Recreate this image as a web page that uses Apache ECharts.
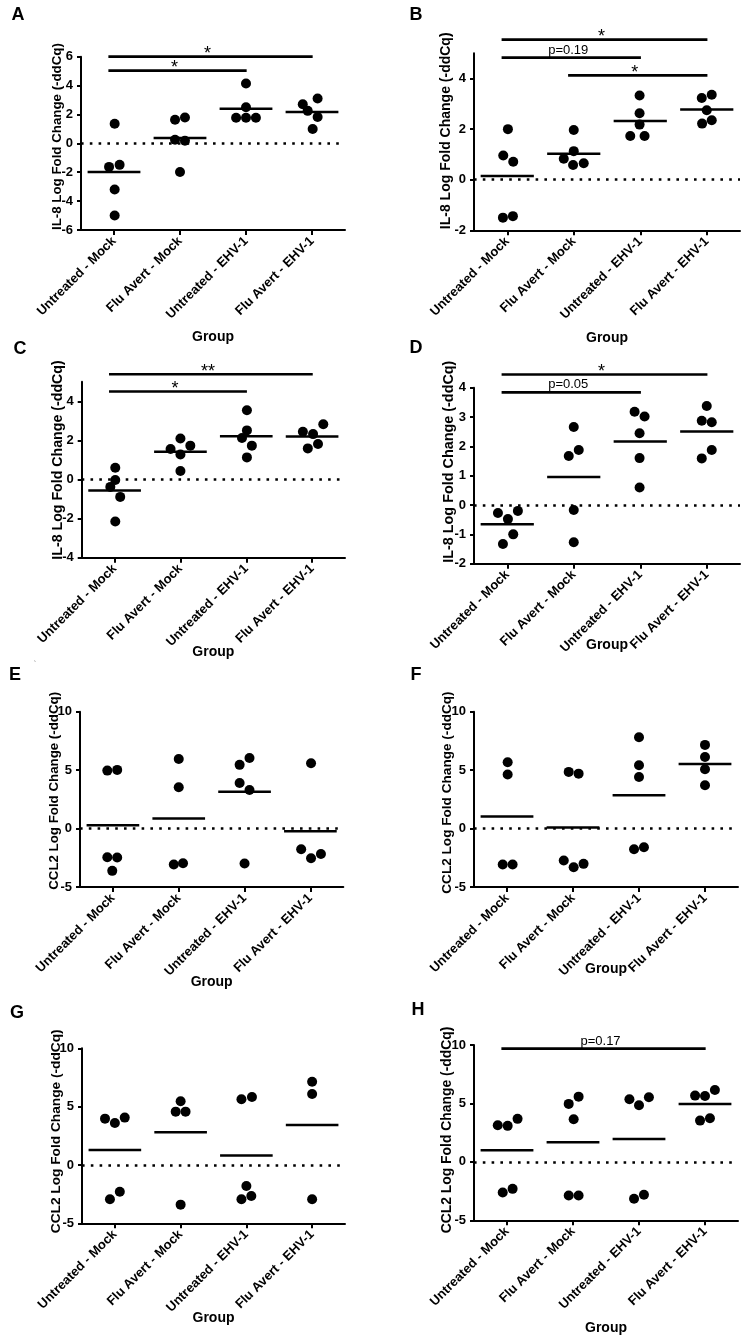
<!DOCTYPE html>
<html>
<head>
<meta charset="utf-8">
<script src="https://cdn.jsdelivr.net/npm/echarts@6/dist/echarts.min.js"></script>
<style>
html,body{margin:0;padding:0;background:#fff;}
#chart{width:746px;height:1339px;}
</style>
</head>
<body>
<div id="chart"></div>
<script>
// ---------- DATA ----------
const categories = ['Untreated - Mock', 'Flu Avert - Mock', 'Untreated - EHV-1', 'Flu Avert - EHV-1'];
const categoryTicks = [0, 1, 2, 3];

const ticksA = [-6, -4, -2, 0, 2, 4, 6];
const ticksB = [-2, 0, 2, 4];
const ticksC = [-4, -2, 0, 2, 4];
const ticksD = [-2, -1, 0, 1, 2, 3, 4];
const ticksCCL2 = [-5, 0, 5, 10];

const valuesA = [
  [1.36, -1.63, -1.49, -3.2, -4.99],
  [1.63, 1.79, 0.25, 0.18, -1.98],
  [4.14, 2.5, 1.77, 1.77, 1.77],
  [3.1, 2.71, 2.25, 1.82, 0.99]
];
const jitterA = [
  [0.01, -0.075, 0.085, 0.01, 0.01],
  [-0.075, 0.075, -0.075, 0.075, 0],
  [0, 0, -0.15, 0, 0.15],
  [0.085, -0.14, -0.065, 0.085, 0.01]
];
const valuesB = [
  [2.0, 0.96, 0.71, -1.5, -1.44],
  [1.97, 1.13, 0.83, 0.58, 0.65],
  [3.33, 2.63, 2.18, 1.73, 1.73],
  [3.36, 3.23, 2.75, 2.22, 2.35]
];
const jitterB = [
  [0.01, -0.06, 0.09, -0.065, 0.085],
  [0, 0, -0.15, -0.01, 0.15],
  [-0.01, -0.01, -0.01, -0.15, 0.065],
  [0.075, -0.075, 0, -0.07, 0.075]
];
const valuesC = [
  [0.6, -0.03, -0.38, -0.89, -2.15],
  [2.1, 1.56, 1.73, 1.28, 0.43],
  [3.54, 2.51, 2.12, 1.73, 1.13],
  [2.82, 2.44, 2.32, 1.81, 1.59]
];
const jitterC = [
  [0.01, 0.01, -0.065, 0.085, 0.01],
  [0, -0.15, 0.15, 0, 0],
  [0.01, 0.01, -0.065, 0.085, 0.01],
  [0.17, -0.14, 0.015, 0.09, -0.065]
];
const valuesD = [
  [-0.27, -0.2, -0.48, -1.0, -1.33],
  [2.66, 1.875, 1.67, -0.17, -1.27],
  [3.18, 3.02, 2.45, 1.6, 0.6],
  [3.375, 2.875, 2.82, 1.875, 1.59]
];
const jitterD = [
  [-0.14, 0.16, 0.01, 0.09, -0.065],
  [0, 0.075, -0.075, 0, 0],
  [-0.085, 0.065, -0.01, -0.01, -0.01],
  [0, -0.075, 0.075, 0.075, -0.075]
];
const valuesE = [
  [4.96, 5.02, -2.45, -2.48, -3.62],
  [5.96, 3.54, -3.08, -2.97],
  [6.04, 5.45, 3.9, 3.3, -2.99],
  [5.59, -1.77, -2.54, -2.17]
];
const jitterE = [
  [-0.085, 0.065, -0.085, 0.065, -0.01],
  [0, 0, -0.075, 0.065],
  [0.075, -0.075, -0.075, 0.075, 0],
  [0.01, -0.14, 0.01, 0.16]
];
const valuesF = [
  [5.67, 4.62, -3.08, -3.08],
  [4.85, 4.7, -2.74, -3.31, -3.02],
  [7.81, 5.42, 4.42, -1.77, -1.6],
  [7.16, 6.13, 5.08, 3.71]
];
const jitterF = [
  [0.01, 0.01, -0.065, 0.085],
  [-0.065, 0.085, -0.14, 0.01, 0.16],
  [0, 0, 0, -0.075, 0.075],
  [0, 0, 0, 0]
];
const valuesG = [
  [3.97, 3.6, 4.06, -2.94, -2.29],
  [5.46, 4.57, 4.57, -3.4],
  [5.63, 5.83, -1.8, -2.94, -2.66],
  [7.14, 6.09, -2.94]
];
const jitterG = [
  [-0.15, 0, 0.15, -0.075, 0.075],
  [0, -0.075, 0.075, 0],
  [-0.075, 0.085, 0, -0.075, 0.075],
  [0, 0, 0]
];
const valuesH = [
  [3.13, 3.08, 3.68, -2.62, -2.31],
  [4.96, 5.58, 3.65, -2.88, -2.88],
  [5.36, 4.84, 5.53, -3.16, -2.82],
  [5.67, 5.64, 6.15, 3.53, 3.73]
];
const jitterH = [
  [-0.14, 0.01, 0.16, -0.065, 0.085],
  [-0.065, 0.085, 0.01, -0.065, 0.085],
  [-0.145, 0, 0.15, -0.075, 0.075],
  [-0.15, 0, 0.15, -0.075, 0.075]
];

// significance brackets: group from -> group to, at y value, with label
const sigA = [{from: 0, to: 3, y: 6.0, text: '*'}, {from: 0, to: 2, y: 5.03, text: '*'}];
const sigB = [{from: 0, to: 3, y: 5.54, text: '*'}, {from: 0, to: 2, y: 4.83, text: 'p=0.19'}, {from: 1, to: 3, y: 4.13, text: '*'}];
const sigC = [{from: 0, to: 3, y: 5.38, text: '**'}, {from: 0, to: 2, y: 4.5, text: '*'}];
const sigD = [{from: 0, to: 3, y: 4.45, text: '*'}, {from: 0, to: 2, y: 3.84, text: 'p=0.05'}];
const sigH = [{from: 0, to: 3, y: 9.69, text: 'p=0.17'}];

const nameIL8 = 'IL-8 Log Fold Change (-ddCq)';
const nameCCL2 = 'CCL2 Log Fold Change (-ddCq)';

// ---------- LAYOUT ----------
const FONT = "'Liberation Sans', Arial, Helvetica, sans-serif";
const panels = [
  {letter: 'A', lx: 18, ly: 15, values: valuesA, jitter: jitterA, sig: sigA, ticks: ticksA, min: -6, max: 6, yName: nameIL8,
   left: 81, top: 56.7, width: 264, height: 173.3, yNameGap: 16.8, yNameSize: 13.3, yShift: 6.8, xNameGap: 100},
  {letter: 'B', lx: 416, ly: 15, values: valuesB, jitter: jitterB, sig: sigB, ticks: ticksB, min: -2, max: 5, yName: nameIL8,
   left: 474, top: 53.3, width: 266, height: 177, yNameGap: 20.7, yNameSize: 14, yShift: 11, xNameGap: 101},
  {letter: 'C', lx: 20, ly: 349, values: valuesC, jitter: jitterC, sig: sigC, ticks: ticksC, min: -4, max: 5, yName: nameIL8,
   left: 81.7, top: 381.7, width: 263.3, height: 176, yNameGap: 16.9, yNameSize: 14.2, yShift: 9.7, xNameGap: 87},
  {letter: 'D', lx: 416, ly: 348, values: valuesD, jitter: jitterD, sig: sigD, ticks: ticksD, min: -2, max: 4, yName: nameIL8,
   left: 474, top: 387.7, width: 266, height: 176, yNameGap: 17.8, yNameSize: 14.4, yShift: 14, xNameGap: 74},
  {letter: 'E', lx: 15, ly: 675, values: valuesE, jitter: jitterE, sig: [], ticks: ticksCCL2, min: -5, max: 10, yName: nameCCL2,
   left: 80, top: 711.7, width: 263.3, height: 175.3, yNameGap: 19.3, yNameSize: 13.3, yShift: 8.5, xNameGap: 88},
  {letter: 'F', lx: 416, ly: 675, values: valuesF, jitter: jitterF, sig: [], ticks: ticksCCL2, min: -5, max: 10, yName: nameCCL2,
   left: 474, top: 711.7, width: 264, height: 175.3, yNameGap: 20.2, yNameSize: 13.6, yShift: 6.8, xNameGap: 75},
  {letter: 'G', lx: 17, ly: 1013, values: valuesG, jitter: jitterG, sig: [], ticks: ticksCCL2, min: -5, max: 10, yName: nameCCL2,
   left: 82, top: 1048.3, width: 263, height: 175, yNameGap: 18.4, yNameSize: 13.7, yShift: 4.5, xNameGap: 88},
  {letter: 'H', lx: 418, ly: 1010, values: valuesH, jitter: jitterH, sig: sigH, ticks: ticksCCL2, min: -5, max: 10, yName: nameCCL2,
   left: 474, top: 1045, width: 264, height: 175.3, yNameGap: 20, yNameSize: 13.9, yShift: 2.7, xNameGap: 101}
];

const grids = [], xAxes = [], yAxes = [], series = [], graphics = [];

panels.forEach((p, i) => {
  grids.push({left: p.left, top: p.top, width: p.width, height: p.height, containLabel: false, outerBoundsMode: 'none'});

  xAxes.push({
    gridIndex: i, type: 'value', min: -0.5, max: 3.5,
    name: 'Group', nameLocation: 'middle', nameGap: p.xNameGap, nameMoveOverlap: false,
    nameTextStyle: {color: '#000', fontWeight: 'bold', fontSize: 14, fontFamily: FONT},
    axisLine: {onZero: false, lineStyle: {color: '#000', width: 2}},
    axisTick: {show: true, customValues: categoryTicks, length: 5, lineStyle: {color: '#000', width: 2}},
    axisLabel: {customValues: categoryTicks, rotate: 45, margin: 9, color: '#000', fontWeight: 'bold', fontSize: 13, fontFamily: FONT,
      formatter: v => categories[Math.round(v)]},
    splitLine: {show: false}
  });

  yAxes.push({
    gridIndex: i, type: 'value', min: p.min, max: p.max,
    name: p.yName, nameLocation: 'middle', nameGap: p.yNameGap, nameMoveOverlap: false,
    nameTextStyle: {color: '#000', fontWeight: 'bold', fontSize: p.yNameSize, fontFamily: FONT, padding: [0, 0, 0, 2 * p.yShift]},
    axisLine: {onZero: false, lineStyle: {color: '#000', width: 2}},
    axisTick: {show: true, customValues: p.ticks, length: 4, lineStyle: {color: '#000', width: 2}},
    axisLabel: {customValues: p.ticks, margin: 8, color: '#000', fontWeight: 'bold', fontSize: 13, fontFamily: FONT},
    splitLine: {show: false}
  });

  const pts = [];
  p.values.forEach((arr, g) => arr.forEach((v, k) => pts.push([g + p.jitter[g][k], v])));

  series.push({
    type: 'scatter', xAxisIndex: i, yAxisIndex: i, data: pts, symbolSize: 10, z: 5,
    itemStyle: {color: '#000', opacity: 1}, silent: true,
    markLine: {silent: true, symbol: 'none', label: {show: false}, z: 1,
      lineStyle: {color: '#000', width: 2.6, type: [2.6, 6.2]},
      data: [{yAxis: 0}]}
  });

  const means = p.values.map(arr => arr.reduce((a, b) => a + b, 0) / arr.length);
  series.push({
    type: 'custom', xAxisIndex: i, yAxisIndex: i, z: 4, silent: true,
    data: means.map((m, g) => [g, m]),
    renderItem: (params, api) => {
      const g = api.value(0), m = api.value(1);
      const a = api.coord([g - 0.4, m]), b = api.coord([g + 0.4, m]);
      return {type: 'line', shape: {x1: a[0], y1: a[1], x2: b[0], y2: b[1]}, style: {stroke: '#000', lineWidth: 2.5}};
    }
  });

  if (p.sig.length) {
    const sig = p.sig;
    series.push({
      type: 'custom', xAxisIndex: i, yAxisIndex: i, z: 4, silent: true, clip: false,
      data: sig.map(s => [(s.from + s.to) / 2, s.y]),
      renderItem: (params, api) => {
        const s = sig[params.dataIndex];
        const a = api.coord([s.from - 0.085, s.y]);
        const b = api.coord([s.to + 0.01, s.y]);
        const star = s.text.charAt(0) === '*';
        return {type: 'group', children: [
          {type: 'line', shape: {x1: a[0], y1: a[1], x2: b[0], y2: b[1]}, style: {stroke: '#000', lineWidth: 2.7}},
          {type: 'text', x: (a[0] + b[0]) / 2 - 3, y: a[1] - (star ? 2.5 : 7.5),
           style: {text: s.text, fill: '#000', fontSize: star ? 18 : 13, fontFamily: FONT, fontWeight: 'normal',
                   align: 'center', verticalAlign: 'middle', textAlign: 'center', textVerticalAlign: 'middle'}}
        ]};
      }
    });
  }

  graphics.push({type: 'text', x: p.lx, y: p.ly, z: 10,
    style: {text: p.letter, fill: '#000', fontSize: 18, fontWeight: 'bold', fontFamily: FONT,
            align: 'center', verticalAlign: 'middle', textAlign: 'center', textVerticalAlign: 'middle'}});
});

graphics.push({type: 'text', x: 35, y: 665, z: 10,
  style: {text: '`', fill: '#999', fontSize: 9, fontFamily: FONT, align: 'center', verticalAlign: 'middle'}});

const chart = echarts.init(document.getElementById('chart'), null, {renderer: 'canvas'});
chart.setOption({
  animation: false,
  backgroundColor: '#fff',
  textStyle: {fontFamily: FONT},
  grid: grids,
  xAxis: xAxes,
  yAxis: yAxes,
  series: series,
  graphic: graphics
});
</script>
</body>
</html>
